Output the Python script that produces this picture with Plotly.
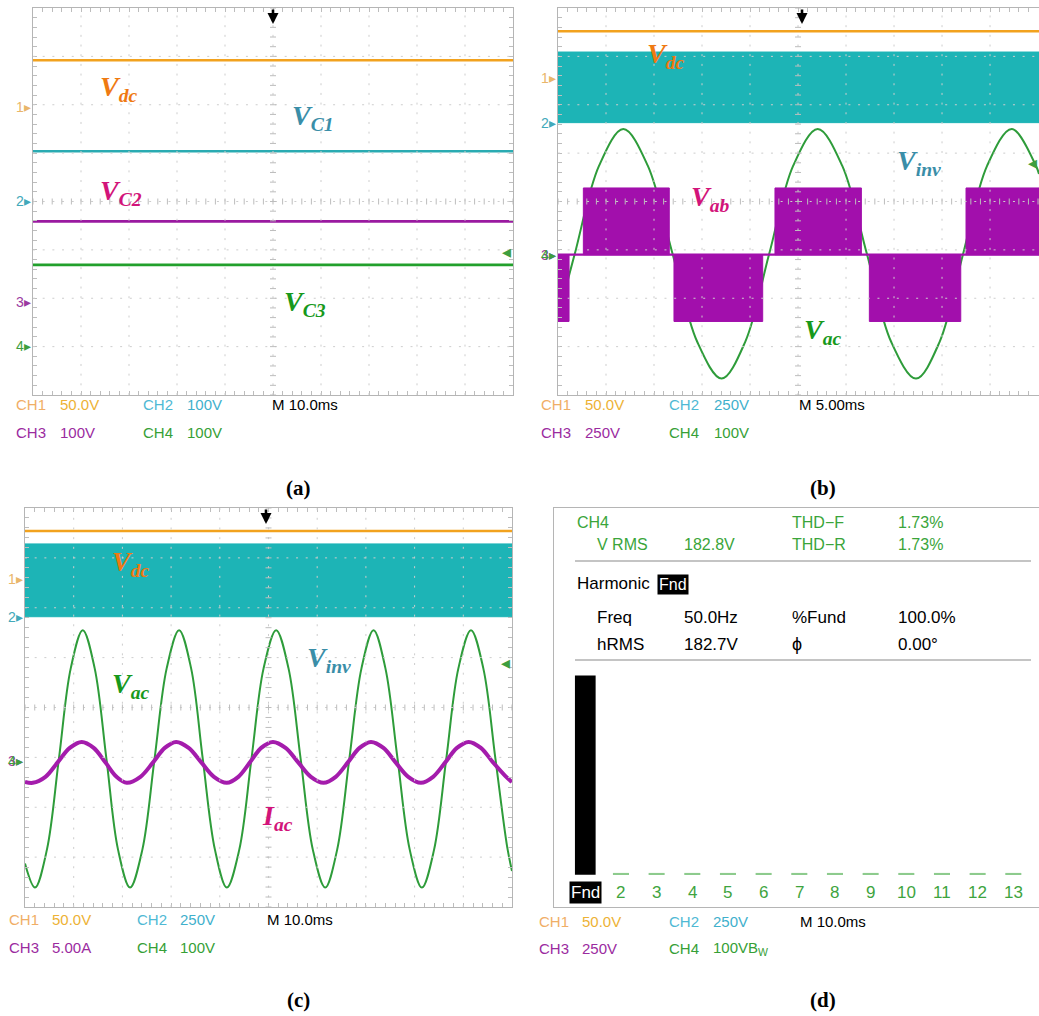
import plotly.graph_objects as go

W, H = 1039, 1016

# ---------------- data ----------------
# (a) capacitor voltages (flat traces over a 10 ms/div window)
a_time_ms = [0, 100]
a_vdc_V = 48
a_vc1_V = 104
a_vc2_V = 167
a_vc3_V = 167
a_volts_per_div = [50, 100, 100, 100]          # CH1..CH4
a_ground_div = [1.96, 0.0, -2.08, -2.98]       # CH1..CH4 ground markers

# (b) 5 ms/div
b_time_ms = [0, 50.1]
b_vdc_V = 48
b_vinv_band_V = [0, 365]                        # PWM band min / max
b_vab_start_ms = [0.0, 2.64, 12.08, 22.6, 32.43, 42.5]
b_vab_end_ms = [1.15, 11.59, 21.32, 31.6, 41.95, 50.1]
b_vab_level_V = [-345, 345, -345, 345, -345, 345]
b_vac_t_ms = [0.0, 1.75, 4.28, 6.80, 9.35, 11.93, 14.5, 17.05, 19.5, 22.0, 24.5,
              27.05, 29.6, 32.17, 34.7, 37.29, 39.75, 42.2, 44.7, 47.26, 49.8, 50.1]
b_vac_V = [-133, 0, 182, 258, 182, 0, -182, -258, -182, 0, 182,
           258, 182, 0, -182, -258, -182, 0, 182, 258, 181, 165]
b_volts_per_div = [50, 250, 250, 100]
b_ground_div = [2.56, 1.63, -1.10, -1.08]

# (c) 10 ms/div
c_time_ms = [0, 100]
c_vdc_V = 48
c_vinv_band_V = [0, 365]
c_vac_t_ms = [0.0, 2.05, 4.5, 6.96, 9.4, 11.86, 14.3, 16.72, 19.1, 21.57, 24.1, 26.6,
              29.1, 31.64, 34.1, 36.5, 39.0, 41.44, 44.0, 46.5, 49.0, 51.57, 54.1,
              56.6, 59.1, 61.64, 64.1, 66.6, 69.1, 71.57, 74.0, 76.5, 79.0, 81.5,
              84.0, 86.5, 89.0, 91.58, 94.1, 96.6, 99.0, 100.0]
c_vac_V = [-210, -258, -182, 0, 182, 258, 182, 0, -182, -258, -182, 0,
           182, 258, 182, 0, -182, -258, -182, 0, 182, 258, 182,
           0, -182, -258, -182, 0, 182, 258, 182, 0, -182, -258,
           -182, 0, 182, 258, 182, 0, -176, -225]
c_iac_t_ms = [0.0, 1.6, 4.2, 6.7, 9.2, 11.65, 14.1, 16.5, 18.8, 20.9, 23.7, 26.3,
              28.7, 31.03, 33.6, 36.2, 38.8, 41.44, 43.8, 46.2, 48.5, 50.9, 53.5,
              56.1, 58.7, 61.3, 63.8, 66.3, 68.7, 71.03, 73.6, 76.1, 78.7, 81.3,
              83.8, 86.3, 88.7, 91.1, 93.6, 96.1, 98.6, 100.0]
c_iac_A = [-1.95, -2.05, -1.45, 0, 1.45, 2.05, 1.45, 0, -1.45, -2.05, -1.45, 0,
           1.45, 2.05, 1.45, 0, -1.45, -2.05, -1.45, 0, 1.45, 2.05, 1.45,
           0, -1.45, -2.05, -1.45, 0, 1.45, 2.05, 1.45, 0, -1.45, -2.05,
           -1.45, 0, 1.45, 2.05, 1.45, 0, -1.35, -1.98]
c_scale_per_div = [50, 250, 5, 100]
c_ground_div = [2.58, 1.82, -1.10, -1.03]

# (d) harmonic spectrum of CH4
d_orders = [1, 2, 3, 4, 5, 6, 7, 8, 9, 10, 11, 12, 13]
d_labels = ["Fnd", "2", "3", "4", "5", "6", "7", "8", "9", "10", "11", "12", "13"]
d_percent = [100.0, 0.9, 0.9, 0.9, 0.9, 0.9, 0.9, 0.9, 0.9, 0.9, 0.9, 0.9, 0.9]

# ---------------- styling ----------------
ORANGE = "#F2A21E"
CYAN = "#1DB4B6"
PURPLE = "#A20FAC"
GREEN = "#2E9C3A"
GRID = "#cdcdcd"
TICK = "#bdbdbd"
BORDER = "#b5b5b5"
SANS = "Liberation Sans, Arial, sans-serif"
SERIF = "Liberation Serif, Times New Roman, serif"

A_BOX = (33, 513, 8, 395)     # left, right, top, bottom (px)
B_BOX = (558, 1039, 8, 395)
C_BOX = (25, 512, 508, 907)
D_BOX = (554, 1039, 508, 907)

fig = go.Figure()
layout = {}
shapes = []
ann = []


def px(x, y):
    return x / W, 1 - y / H


def dv(value, scale, ground):
    return value / scale + ground


def scope_axes(n, box, xr, xdt, right_border=True):
    l, r, t, b = box
    xs = "xaxis" if n == 1 else f"xaxis{n}"
    ys = "yaxis" if n == 1 else f"yaxis{n}"
    yid = "y" if n == 1 else f"y{n}"
    xid = "x" if n == 1 else f"x{n}"
    common = dict(showgrid=False, zeroline=False, showticklabels=False,
                  ticks="inside", ticklen=4, tickcolor=TICK, tickwidth=1,
                  tickmode="linear", tick0=0, showline=True, linecolor=BORDER,
                  linewidth=1, fixedrange=True)
    layout[xs] = dict(domain=[l / W, min(r / W, 1.0)], range=xr, anchor=yid,
                      dtick=xdt, mirror="ticks", **common)
    layout[ys] = dict(domain=[1 - b / H, 1 - t / H], range=[-4, 4], anchor=xid,
                      dtick=0.2, mirror="ticks" if right_border else False, **common)


def scope_decor(n, box, xr, ms_div):
    l, r, t, b = box
    xref = "x" if n == 1 else f"x{n}"
    yref = "y" if n == 1 else f"y{n}"
    pxx = (min(r, W) - l) / (xr[1] - xr[0])
    pxy = (b - t) / 8.0
    parts = []
    for k in range(1, 10):
        x = k * ms_div
        parts.append(f"M{x},-4L{x},4")
    for k in range(-3, 4):
        parts.append(f"M0,{k}L{10 * ms_div},{k}")
    shapes.append(dict(type="path", path="".join(parts), xref=xref, yref=yref,
                       line=dict(color=GRID, width=1, dash="2px,7.68px"), layer="above"))
    hx = 3.0 / pxx
    hy = 3.0 / pxy
    xc = 5 * ms_div
    parts = []
    for i in range(41):
        y = -4 + 0.2 * i
        parts.append(f"M{xc - hx:.4f},{y:.3f}L{xc + hx:.4f},{y:.3f}")
    for i in range(51):
        x = 0.2 * ms_div * i
        parts.append(f"M{x:.4f},{-hy:.4f}L{x:.4f},{hy:.4f}")
    shapes.append(dict(type="path", path="".join(parts), xref=xref, yref=yref,
                       line=dict(color=TICK, width=1), layer="above"))


def line_trace(n, x, y, color, width, shape="linear"):
    xa = "x" if n == 1 else f"x{n}"
    ya = "y" if n == 1 else f"y{n}"
    fig.add_trace(go.Scatter(x=x, y=y, mode="lines", xaxis=xa, yaxis=ya,
                             line=dict(color=color, width=width, shape=shape),
                             hoverinfo="skip", showlegend=False))


def band_trace(n, t, lo, hi, color):
    xa = "x" if n == 1 else f"x{n}"
    ya = "y" if n == 1 else f"y{n}"
    fig.add_trace(go.Scatter(x=[t[0], t[1], t[1], t[0], t[0]], y=[lo, lo, hi, hi, lo],
                             mode="lines", fill="toself", fillcolor=color,
                             line=dict(color=color, width=1), xaxis=xa, yaxis=ya,
                             hoverinfo="skip", showlegend=False))


def label(x, y, main, sub, color, size=28):
    ax, ay = px(x, y)
    ann.append(dict(x=ax, y=ay, xref="paper", yref="paper", xanchor="left", yanchor="middle",
                    showarrow=False,
                    text=f"<b><i>{main}</i></b><sub><b><i>{sub}</i></b></sub>",
                    font=dict(family=SERIF, size=size, color=color)))


def text(x, y, s, color, size=15, anchor="left", bg=None, fam=SANS):
    ax, ay = px(x, y)
    d = dict(x=ax, y=ay, xref="paper", yref="paper", xanchor=anchor, yanchor="middle",
             showarrow=False, text=s, font=dict(family=fam, size=size, color=color))
    if bg:
        d["bgcolor"] = bg
        d["borderpad"] = 1
    ann.append(d)


def marker(x, y, s, color):
    text(x, y, s + "▸", color, size=14, anchor="right")


def trigger(x, y):
    ax, ay = px(x, y)
    ann.append(dict(x=ax, y=ay, xref="paper", yref="paper", text="", showarrow=True,
                    ax=0, ay=-16, arrowhead=2, arrowsize=0.85, arrowwidth=2.6,
                    arrowcolor="black"))


CH_COL = [("#F0AE66", "#EDB235"), ("#4FB9D4", "#3FB0CC"),
          ("#9B2B9F", "#9B2B9F"), ("#36A036", "#36A036")]


def settings(x1, x2, x3, y1, y2, vals, tb, xv1, xv2):
    text(x1, y1, "CH1", CH_COL[0][0])
    text(xv1, y1, vals[0], CH_COL[0][1])
    text(x2, y1, "CH2", CH_COL[1][0])
    text(xv2, y1, vals[1], CH_COL[1][1])
    text(x3, y1, tb, "black")
    text(x1, y2, "CH3", CH_COL[2][0])
    text(xv1, y2, vals[2], CH_COL[2][1])
    text(x2, y2, "CH4", CH_COL[3][0])
    text(xv2, y2, vals[3], CH_COL[3][1])


# ---------------- panel (a) ----------------
scope_axes(1, A_BOX, [0, 100], 2)
scope_decor(1, A_BOX, [0, 100], 10)
s, g = a_volts_per_div, a_ground_div
line_trace(1, a_time_ms, [dv(a_vdc_V, s[0], g[0])] * 2, ORANGE, 2.6)
line_trace(1, a_time_ms, [dv(a_vc1_V, s[1], g[1])] * 2, "#2AABB2", 2.6)
line_trace(1, a_time_ms, [dv(a_vc2_V, s[2], g[2])] * 2, "#9A1AA0", 2.6)
line_trace(1, a_time_ms, [dv(a_vc3_V, s[3], g[3])] * 2, "#22A02C", 2.6)
label(98, 89, "V", "dc", "#EF7A12")
label(290, 117, "V", "C1", "#3A8EA8")
label(98, 192, "V", "C2", "#D2147A")
label(282, 303, "V", "C3", "#17991C")
marker(33, 107, "1", "#E9B66A")
marker(33, 201, "2", "#42A9BA")
marker(33, 302, "3", "#9B3AA0")
marker(33, 346, "4", "#3E9E3E")
text(513, 252, "◂", "#3E9E3E", size=18, anchor="right")
trigger(273, 24)
settings(14, 141, 270, 405, 432, ["50.0V", "100V", "100V", "100V"], "M 10.0ms", 58, 185)

# ---------------- panel (b) ----------------
scope_axes(2, B_BOX, [0, 50.1], 1, right_border=False)
scope_decor(2, B_BOX, [0, 50.1], 5)
s, g = b_volts_per_div, b_ground_div
line_trace(2, b_time_ms, [dv(b_vdc_V, s[0], g[0])] * 2, ORANGE, 2.4)
band_trace(2, b_time_ms, dv(b_vinv_band_V[0], s[1], g[1]), dv(b_vinv_band_V[1], s[1], g[1]), CYAN)
line_trace(2, b_vac_t_ms, [dv(v, s[3], g[3]) for v in b_vac_V], GREEN, 2, "spline")
bx, by = [], []
for t0, t1, lv in zip(b_vab_start_ms, b_vab_end_ms, b_vab_level_V):
    z = dv(0, s[2], g[2])
    yv = dv(lv, s[2], g[2])
    bx += [t0, t1, t1, t0, t0, None]
    by += [z, z, yv, yv, z, None]
fig.add_trace(go.Scatter(x=bx, y=by, mode="lines", fill="toself", fillcolor=PURPLE,
                         line=dict(color=PURPLE, width=1), xaxis="x2", yaxis="y2",
                         hoverinfo="skip", showlegend=False))
line_trace(2, b_time_ms, [dv(0, s[2], g[2])] * 2, PURPLE, 2.2)
label(645, 55, "V", "dc", "#EF7A12")
label(895, 163, "V", "inv", "#3A8EA8")
label(689, 199, "V", "ab", "#D2147A")
label(802, 331, "V", "ac", "#17991C")
marker(558, 78, "1", "#E9B66A")
marker(558, 123, "2", "#42A9BA")
marker(558, 255, "3", "#9B3AA0")
marker(558, 255, "4", "#3E9E3E")
text(1039, 163, "◂", "#3E9E3E", size=18, anchor="right")
trigger(802, 24)
settings(539, 667, 797, 405, 432, ["50.0V", "250V", "250V", "100V"], "M 5.00ms", 583, 712)

# ---------------- panel (c) ----------------
scope_axes(3, C_BOX, [0, 100], 2)
scope_decor(3, C_BOX, [0, 100], 10)
s, g = c_scale_per_div, c_ground_div
line_trace(3, c_time_ms, [dv(c_vdc_V, s[0], g[0])] * 2, ORANGE, 2.4)
band_trace(3, c_time_ms, dv(c_vinv_band_V[0], s[1], g[1]), dv(c_vinv_band_V[1], s[1], g[1]), CYAN)
line_trace(3, c_vac_t_ms, [dv(v, s[3], g[3]) for v in c_vac_V], GREEN, 2, "spline")
line_trace(3, c_iac_t_ms, [dv(v, s[2], g[2]) for v in c_iac_A], "#A41CAC", 4, "spline")
label(110, 563, "V", "dc", "#EF7A12")
label(305, 659, "V", "inv", "#3A8EA8")
label(110, 685, "V", "ac", "#17991C")
label(260, 817, "I", "ac", "#D2147A")
marker(25, 579, "1", "#E9B66A")
marker(25, 617, "2", "#42A9BA")
marker(25, 761, "3", "#9B3AA0")
marker(25, 761, "4", "#3E9E3E")
text(512, 663, "◂", "#3E9E3E", size=18, anchor="right")
trigger(266, 524)
settings(7, 135, 265, 919, 947, ["50.0V", "250V", "5.00A", "100V"], "M 10.0ms", 50, 178)

# ---------------- panel (d) ----------------
l, r, t, b = D_BOX
layout["xaxis4"] = dict(domain=[l / W, 1.0], range=[0.123, 13.72], anchor="y4",
                        showgrid=False, zeroline=False, showticklabels=False, ticks="",
                        showline=True, linecolor=BORDER, linewidth=1, mirror=True,
                        fixedrange=True)
layout["yaxis4"] = dict(domain=[1 - b / H, 1 - t / H], range=[-16.2, 184], anchor="x4",
                        showgrid=False, zeroline=False, showticklabels=False, ticks="",
                        showline=True, linecolor=BORDER, linewidth=1, mirror=False,
                        fixedrange=True)
fig.add_trace(go.Bar(x=d_orders, y=d_percent, width=[0.58] + [0.45] * 12,
                     marker=dict(color=["black"] + ["#8DCB8D"] * 12, line=dict(width=0)),
                     xaxis="x4", yaxis="y4", hoverinfo="skip", showlegend=False))
for o, lab in zip(d_orders, d_labels):
    yy = 1 - 892 / H
    d = dict(x=o, y=yy, xref="x4", yref="paper", xanchor="center", yanchor="middle",
             showarrow=False, text=lab, font=dict(family=SANS, size=17,
                                                  color="white" if o == 1 else "#3EA43E"))
    if o == 1:
        d["bgcolor"] = "black"
        d["borderpad"] = 1
    ann.append(d)

DG = "#3AA53A"
text(575, 522, "CH4", DG, 16)
text(595, 544, "V RMS", DG, 16)
text(682, 544, "182.8V", DG, 16)
text(790, 522, "THD−F", DG, 16)
text(896, 522, "1.73%", DG, 16)
text(790, 544, "THD−R", DG, 16)
text(896, 544, "1.73%", DG, 16)
text(575, 583, "Harmonic", "black", 17)
text(657, 584, "Fnd", "white", 16, bg="black")
text(595, 617, "Freq", "black", 17)
text(682, 617, "50.0Hz", "black", 17)
text(790, 617, "%Fund", "black", 17)
text(896, 617, "100.0%", "black", 17)
text(595, 644, "hRMS", "black", 17)
text(682, 644, "182.7V", "black", 17)
text(790, 644, "ϕ", "black", 18)
text(896, 644, "0.00°", "black", 17)
for yy in (561, 660):
    shapes.append(dict(type="line", xref="paper", yref="paper",
                       x0=575 / W, x1=1031 / W, y0=1 - yy / H, y1=1 - yy / H,
                       line=dict(color="#b0b0b0", width=1.5)))
text(537, 921, "CH1", CH_COL[0][0])
text(580, 921, "50.0V", CH_COL[0][1])
text(667, 921, "CH2", CH_COL[1][0])
text(711, 921, "250V", CH_COL[1][1])
text(798, 921, "M 10.0ms", "black")
text(537, 948, "CH3", CH_COL[2][0])
text(580, 948, "250V", CH_COL[2][1])
text(667, 948, "CH4", CH_COL[3][0])
text(711, 948, "100VB<sub>W</sub>", CH_COL[3][1])

# ---------------- captions ----------------
for cx, cy, s_ in [(298, 488, "(a)"), (823, 488, "(b)"), (298, 1000, "(c)"), (823, 1000, "(d)")]:
    text(cx, cy, f"<b>{s_}</b>", "black", 21, anchor="center", fam=SERIF)

fig.update_layout(width=W, height=H, margin=dict(l=0, r=0, t=0, b=0),
                  paper_bgcolor="white", plot_bgcolor="white",
                  showlegend=False, shapes=shapes, annotations=ann, **layout)
fig.write_html("out.html")
